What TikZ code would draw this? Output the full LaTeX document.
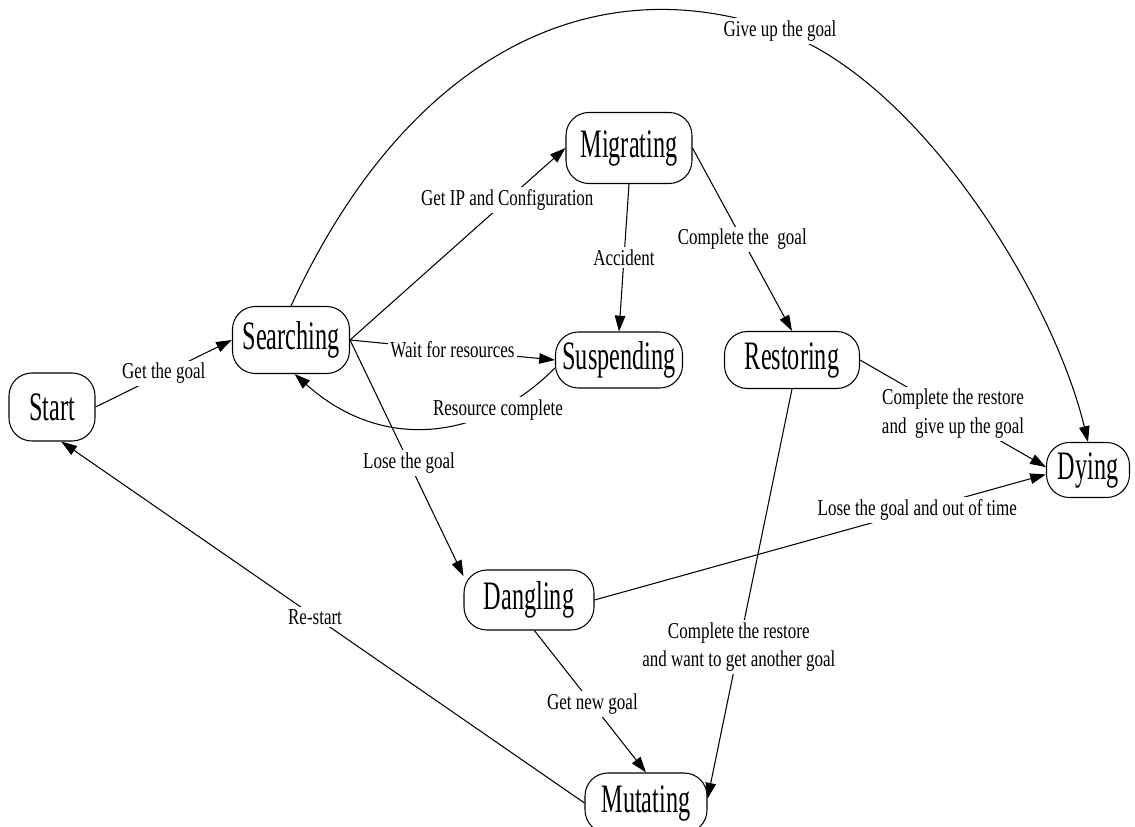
\documentclass[tikz,border=0pt]{standalone}
\usepackage{fontspec}
\usetikzlibrary{arrows.meta}
\newfontfamily\lblf[FakeStretch=0.75]{Liberation Serif}
\newfontfamily\nodef[FakeStretch=0.6]{Liberation Serif}
\begin{document}
\begin{tikzpicture}[x=0.02cm,y=-0.02cm,
  state/.style={draw, line width=0.6pt, rounded corners=13pt, inner sep=0pt,
    font=\nodef\fontsize{23}{26}\selectfont, fill=white},
  lbl/.style={fill=white, inner sep=1.5pt, font=\lblf\fontsize{12.9}{16}\selectfont, align=center},
  edge/.style={line width=0.6pt, -{Triangle[length=9pt,width=6pt]}},
  plain/.style={line width=0.6pt}
]
\useasboundingbox (0,0) rectangle (1135,827);
\fill[white] (0,0) rectangle (1135,827);

\node[state, minimum width=1.72cm, minimum height=1.36cm] (st) at (52,407) {Start};
\node[state, minimum width=2.34cm, minimum height=1.34cm] (se) at (291,340) {Searching};
\node[state, minimum width=2.52cm, minimum height=1.42cm] (mi) at (629,148) {Migrating};
\node[state, minimum width=2.54cm, minimum height=1.12cm] (su) at (619,360) {Suspending};
\node[state, minimum width=2.70cm, minimum height=1.14cm] (re) at (792,360) {Restoring};
\node[state, minimum width=1.66cm, minimum height=1.10cm] (dy) at (1088,470) {Dying};
\node[state, minimum width=2.60cm, minimum height=1.20cm] (da) at (529,600) {Dangling};
\node[state, minimum width=2.44cm, minimum height=1.20cm] (mu) at (646,803) {Mutating};

\draw[edge] (st.east) -- node[lbl] (l1) {Get the goal} (se.west);
\draw[edge] (se.east) -- node[lbl,pos=0.73] (l2) {Get IP and Configuration} (mi.west);
\draw[edge] (se.east) -- node[lbl] (l3) {Wait for resources} (su.west);
\draw[edge] (su.187) .. controls (486,438) and (385,455) .. node[lbl,pos=0.25] (l4) {Resource complete} (se.276);
\draw[edge] (se.east) -- node[lbl,pos=0.52] (l5) {Lose the goal} (da.160);
\draw[edge] (mi.south) -- node[lbl] (l6) {Accident} (su.north);
\draw[edge] (mi.east) -- node[lbl] (l7) {Complete the~ goal} (re.north);
\draw[edge] (re.east) -- node[lbl] (l8) {Complete the restore\\and~ give up the goal} (dy.176);
\draw[edge] (da.east) -- node[lbl,pos=0.715] (l9) {Lose the goal and out of time} (dy.186);
\draw[edge] (re.south) -- node[lbl,pos=0.63] (l10) {Complete the restore\\and want to get another goal} (mu.4);
\draw[edge] (da.280) -- node[lbl,pos=0.52] (l11) {Get new goal} (mu.north);
\draw[edge] (mu.west) -- node[lbl,pos=0.515] (l12) {Re-start} (st.285);

\coordinate (g) at (780,31);
\draw[plain] (se.north) .. controls (406,56) and (592,-37) .. (g);
\draw[edge] (g) .. controls (921,82) and (1053,297) .. (dy.north);
\node[lbl] (l13) at (g) {Give up the goal};
\end{tikzpicture}
\end{document}
